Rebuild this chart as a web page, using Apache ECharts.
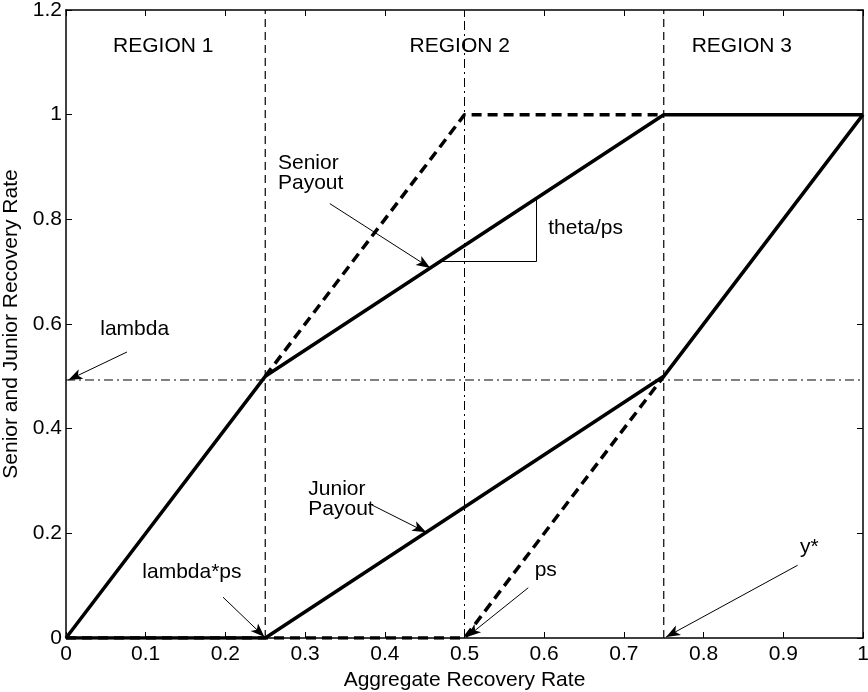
<!DOCTYPE html>
<html>
<head>
<meta charset="utf-8">
<script src="https://cdn.jsdelivr.net/npm/echarts@6/dist/echarts.min.js"></script>
<style>
html,body{margin:0;padding:0;background:#fff;}
#chart{width:868px;height:692px;}
</style>
</head>
<body>
<div id="chart"></div>
<script>
// ---- data ----
var seniorSolid = [[0,0],[0.25,0.5],[0.75,1],[1,1]];
var seniorDashed = [[0.25,0.5],[0.5,1],[0.75,1]];
var juniorSolid = [[0,0],[0.25,0],[0.75,0.5],[1,1]];
var juniorDashed = [[0,0],[0.5,0],[0.75,0.5]];
var regionBounds = [0.25, 0.75];
var psValue = 0.5;
var lambdaValue = 0.493;
var xTicks = {min:0, max:1, interval:0.1};
var yTicks = {min:0, max:1.2, interval:0.2};
var xTitle = 'Aggregate Recovery Rate';
var yTitle = 'Senior and Junior Recovery Rate';
// annotation texts [text, x, y, align]
var labels = [
  ['REGION 1', 0.122, 1.13, 'center'],
  ['REGION 2', 0.494, 1.13, 'center'],
  ['REGION 3', 0.848, 1.13, 'center'],
  ['Senior\nPayout', 0.266, 0.889, 'left'],
  ['theta/ps', 0.605, 0.784, 'left'],
  ['lambda', 0.043, 0.59, 'left'],
  ['Junior\nPayout', 0.304, 0.266, 'left'],
  ['lambda*ps', 0.158, 0.126, 'center'],
  ['ps', 0.588, 0.130, 'left'],
  ['y*', 0.921, 0.174, 'left']
];
// arrows [fromX, fromY, toX, toY]
var arrows = [
  [0.331, 0.830, 0.457, 0.707],
  [0.0765, 0.5465, 0.003, 0.493],
  [0.384, 0.254, 0.452, 0.202],
  [0.197, 0.078, 0.249, 0.002],
  [0.580, 0.096, 0.503, 0.002],
  [0.918, 0.139, 0.753, 0.002]
];
// slope bracket (theta/ps)
var bracket = [[0.469, 0.719], [0.59, 0.719], [0.59, 0.84]];

var FONT = 'Liberation Sans';
var FS = 21;

var chart = echarts.init(document.getElementById('chart'));

function xAxisDef(pos, showLabel) {
  return {
    type: 'value', position: pos, min: xTicks.min, max: xTicks.max, interval: xTicks.interval,
    name: showLabel ? xTitle : '', nameLocation: 'middle', nameGap: 28,
    nameTextStyle: {color: '#000', fontSize: FS, fontFamily: FONT},
    axisLine: {show: true, onZero: false, lineStyle: {color: '#000', width: 1.5}},
    axisTick: {show: true, inside: true, length: 6, lineStyle: {color: '#000', width: 1}},
    axisLabel: {show: showLabel, color: '#000', fontSize: FS, fontFamily: FONT, margin: 6},
    splitLine: {show: false}
  };
}
function yAxisDef(pos, showLabel) {
  return {
    type: 'value', position: pos, min: yTicks.min, max: yTicks.max, interval: yTicks.interval,
    name: showLabel ? yTitle : '', nameLocation: 'middle', nameGap: 36,
    nameTextStyle: {color: '#000', fontSize: FS, fontFamily: FONT},
    axisLine: {show: true, onZero: false, lineStyle: {color: '#000', width: 1.5}},
    axisTick: {show: true, inside: true, length: 6, lineStyle: {color: '#000', width: 1}},
    axisLabel: {show: showLabel, color: '#000', fontSize: FS, fontFamily: FONT, margin: 4},
    splitLine: {show: false}
  };
}

function lineSeries(data, width, type, z) {
  return {
    type: 'line', data: data, xAxisIndex: 0, yAxisIndex: 0,
    showSymbol: false, symbol: 'none', silent: true, z: z,
    lineStyle: {color: '#000', width: width, type: type},
    animation: false
  };
}

var series = [];
regionBounds.forEach(function (b) {
  series.push(lineSeries([[b, yTicks.min], [b, yTicks.max]], 1.2, [8, 5], 1));
});
series.push(lineSeries([[psValue, yTicks.min], [psValue, yTicks.max]], 1, [9, 4, 2, 4], 1));
series.push(lineSeries([[xTicks.min, lambdaValue], [xTicks.max, lambdaValue]], 1, [9, 4, 2, 4], 1));
series.push(lineSeries(seniorDashed, 3.5, [10, 6], 2));
series.push(lineSeries(juniorDashed, 3.5, [10, 6], 2));
series.push(lineSeries(seniorSolid, 3.5, 'solid', 3));
series.push(lineSeries(juniorSolid, 3.5, 'solid', 3));

// annotation lines via markLine
var mlData = arrows.map(function (a) {
  return [{coord: [a[0], a[1]], symbol: 'none'}, {coord: [a[2], a[3]], symbol: 'arrow', symbolSize: [8, 14]}];
});
for (var i = 0; i < bracket.length - 1; i++) {
  mlData.push([{coord: bracket[i], symbol: 'none'}, {coord: bracket[i + 1], symbol: 'none'}]);
}
series.push({
  type: 'line', data: [], xAxisIndex: 0, yAxisIndex: 0, silent: true, z: 4,
  markLine: {
    silent: true, animation: false, symbol: ['none', 'arrow'],
    label: {show: false},
    lineStyle: {color: '#000', width: 1, type: 'solid'},
    emphasis: {disabled: true},
    data: mlData
  }
});

chart.setOption({
  animation: false,
  backgroundColor: '#fff',
  grid: {left: 66, right: 5, top: 10, bottom: 54, containLabel: false, outerBoundsMode: 'none'},
  xAxis: [xAxisDef('bottom', true), xAxisDef('top', false)],
  yAxis: [yAxisDef('left', true), yAxisDef('right', false)],
  series: series
});

var graphics = labels.map(function (l) {
  var p = chart.convertToPixel({gridIndex: 0}, [l[1], l[2]]);
  return {
    type: 'text', x: p[0], y: p[1], z: 10, silent: true,
    style: {text: l[0], fill: '#000', font: FS + 'px "' + FONT + '"',
      align: l[3], verticalAlign: 'middle', lineHeight: 20}
  };
});
chart.setOption({graphic: graphics});
</script>
</body>
</html>
